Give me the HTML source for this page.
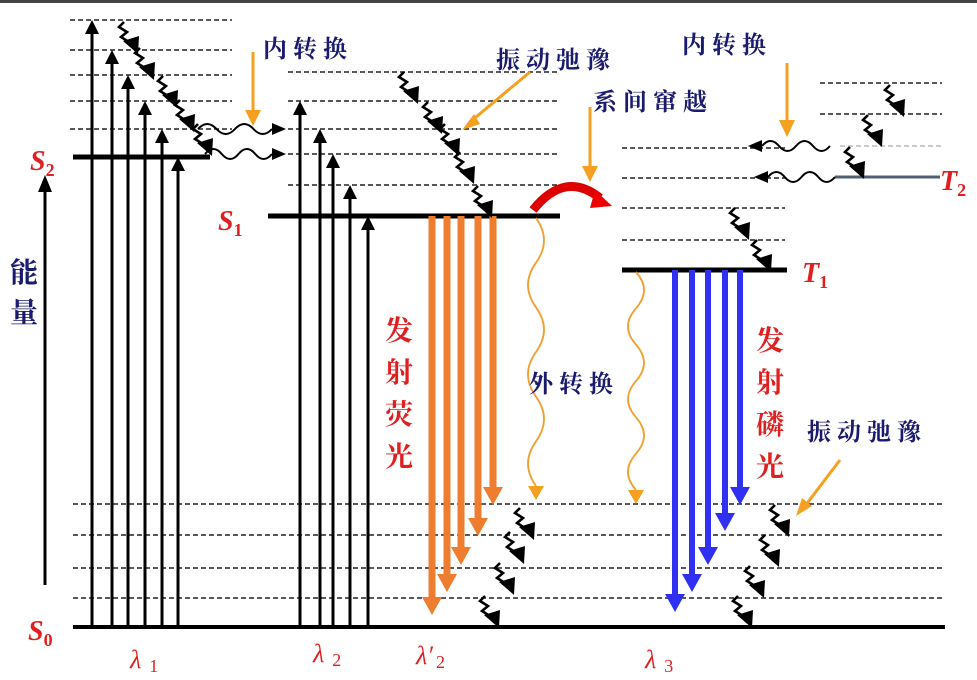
<!DOCTYPE html>
<html><head><meta charset="utf-8"><style>
html,body{margin:0;padding:0;background:#fff;}
svg{display:block;}
.zh{font-family:"Liberation Serif","Noto Serif CJK SC",serif;font-weight:bold;}
.it{font-family:"Liberation Serif",serif;font-style:italic;font-weight:bold;fill:#e02020;}
.sub{font-style:normal;}
</style></head><body>
<svg id="d" width="977" height="680" viewBox="0 0 977 680" xmlns="http://www.w3.org/2000/svg">
<rect x="0" y="0" width="977" height="3" fill="#444"/>
<g id="lv"></g>
<g id="ar"></g>
<path d="M533,210 Q565,170 600,198" stroke="#d00" stroke-width="9" fill="none"/>
<path d="M595,190 L612,206 L590,208 Z" fill="#e00"/>
<line x1="45" y1="585" x2="45" y2="190" stroke="#000" stroke-width="3"/>
<path d="M38,192 L45,175 L52,192 Z" fill="#000"/>
<text class="zh" x="10" y="282" font-size="28" fill="#1a1a6e">能</text>
<text class="zh" x="10" y="322" font-size="28" fill="#1a1a6e">量</text>
<text class="it" x="30" y="170" font-size="28">S<tspan class="sub" font-size="18" dy="6">2</tspan></text>
<text class="it" x="218" y="230" font-size="28">S<tspan class="sub" font-size="18" dy="6">1</tspan></text>
<text class="it" x="28" y="640" font-size="28">S<tspan class="sub" font-size="18" dy="6">0</tspan></text>
<text class="it" x="802" y="282" font-size="28">T<tspan class="sub" font-size="18" dy="6">1</tspan></text>
<text class="it" x="940" y="190" font-size="28">T<tspan class="sub" font-size="18" dy="6">2</tspan></text>
<g font-family="Liberation Serif,serif" fill="#e02020" font-size="26">
<text x="130" y="668" font-style="italic">λ<tspan class="sub" font-size="18" dx="8" dy="4">1</tspan></text>
<text x="313" y="662" font-style="italic">λ<tspan class="sub" font-size="18" dx="8" dy="4">2</tspan></text>
<text x="416" y="664" font-style="italic">λ′<tspan class="sub" font-size="18" dx="3" dy="4">2</tspan></text>
<text x="645" y="668" font-style="italic">λ<tspan class="sub" font-size="18" dx="8" dy="4">3</tspan></text>
</g>
<g class="zh" fill="#1a1a6e" font-size="24">
<text x="263" y="57">内 转 换</text>
<text x="496" y="68">振 动 弛 豫</text>
<text x="593" y="110">系 间 窜 越</text>
<text x="682" y="53">内 转 换</text>
<text x="529" y="392">外 转 换</text>
<text x="807" y="440">振 动 弛 豫</text>
</g>
<g class="zh" fill="#e02020" font-size="28">
<text x="385" y="340">发</text>
<text x="385" y="382">射</text>
<text x="385" y="424">荧</text>
<text x="385" y="466">光</text>
<text x="756" y="350">发</text>
<text x="756" y="392">射</text>
<text x="756" y="434">磷</text>
<text x="756" y="476">光</text>
</g>
<g stroke="#f5a020" stroke-width="3" fill="#f5a020">
<line x1="253" y1="52" x2="253" y2="112"/><path d="M245,110L253,126L261,110Z" stroke="none"/>
<line x1="530" y1="72" x2="470" y2="122"/><path d="M462,130L474,114L480,124Z" stroke="none"/>
<line x1="590" y1="107" x2="590" y2="168"/><path d="M582,166L590,182L598,166Z" stroke="none"/>
<line x1="787" y1="63" x2="787" y2="122"/><path d="M779,120L787,137L795,120Z" stroke="none"/>
<line x1="840" y1="460" x2="805" y2="506"/><path d="M796,516L802,498L812,506Z" stroke="none"/>
</g>
</svg>
<script>
var s2Dashes=[20,50,75,101,129];
var s1Dashes=[72,101,129,154,185];
var t1Dashes=[148,178,208,240];
var t2Dashes=[83,114];
var s0Dashes=[504,535,568,598];
var s2Abs=[[92,20],[112,50],[128,75],[145,101],[162,129],[178,157]];
var s1Abs=[[300,101],[320,129],[333,154],[350,185],[368,216]];
var fluo=[[432,615],[447,592],[461,565],[478,536],[493,505]];
var phos=[[675,612],[692,592],[708,565],[725,531],[740,505]];
var NS="http://www.w3.org/2000/svg";
var lv=document.getElementById('lv'),ar=document.getElementById('ar');
function mk(t,a,p){var e=document.createElementNS(NS,t);for(var k in a)e.setAttribute(k,a[k]);(p||ar).appendChild(e);return e;}
function dash(x1,x2,y,col){var e=mk('line',{x1:x1,x2:x2,y1:y,y2:y,stroke:col||'#222','stroke-width':1.5,'stroke-dasharray':'5,3'},lv);

}
function bold(x1,x2,y,w,col){var e=mk('line',{x1:x1,x2:x2,y1:y,y2:y,stroke:col||'#000','stroke-width':w||5},lv);

}
s2Dashes.forEach(function(y){dash(70,232,y);});
s1Dashes.forEach(function(y){dash(288,560,y);});
t1Dashes.forEach(function(y){dash(622,785,y);});
t2Dashes.forEach(function(y){dash(820,942,y);});
dash(840,942,146,'#bbb');
s0Dashes.forEach(function(y){dash(73,945,y);});
bold(73,210,157);bold(268,560,216);bold(622,787,270);bold(835,940,177,3,'#506070');bold(73,945,627,4);
function up(x,y){var l=mk('line',{x1:x,x2:x,y1:627,y2:y+12,stroke:'#000','stroke-width':3});


var h=mk('path',{d:'M'+(x-7)+','+(y+14)+'L'+x+','+y+'L'+(x+7)+','+(y+14)+'Z',fill:'#000'});

}
s2Abs.forEach(function(a){up(a[0],a[1]);});
s1Abs.forEach(function(a){up(a[0],a[1]);});
function down(x,y0,y,col,w){var l=mk('line',{x1:x,x2:x,y1:y0,y2:y-16,stroke:col,'stroke-width':w});


var h=mk('path',{d:'M'+(x-10)+','+(y-18)+'L'+x+','+y+'L'+(x+10)+','+(y-18)+'Z',fill:col});

}
fluo.forEach(function(a){down(a[0],216,a[1],'#ee7d30',7);});
phos.forEach(function(a){down(a[0],270,a[1],'#3030f0',6);});
function sq(x,y){var p=mk('path',{d:'M'+x+','+y+'l-5,5 l8,5 l-6,5 l8,5 l3,3',stroke:'#000','stroke-width':2.6,fill:'none'});


var h=mk('path',{d:'M'+(x-1)+','+(y+19)+'L'+(x+14)+','+(y+32)+'L'+(x+15)+','+(y+14)+'Z',fill:'#000'});

}
[[124,22],[140,48],[163,76],[180,100],[198,124],[404,72],[428,102],[445,124],[460,152],[478,186],
 [890,85],[868,115],[850,147],[735,208],[757,240],
 [520,508],[510,532],[500,563],[485,596],[775,505],[765,535],[750,566],[738,596]].forEach(function(a){sq(a[0],a[1]);});
function wav(x1,x2,y,dir){var d='M'+x1+','+y;var n=4,s=(x2-x1)/n;for(var i=0;i<n;i++){d+=' q'+(s/2)+','+(i%2?10:-10)+' '+s+',0';}
var p=mk('path',{d:d,stroke:'#000','stroke-width':2,fill:'none'});


var tx=dir>0?x2:x1;var h=mk('path',{d:'M'+tx+','+(y-6)+'L'+(tx+dir*14)+','+y+'L'+tx+','+(y+6)+'Z',fill:'#000'});

}
wav(198,272,129,1);wav(205,272,154,1);wav(762,830,146,-1);wav(768,835,177,-1);
function ow(x,y0,y1){var d='M'+x+','+y0;var n=6,s=(y1-y0)/n;for(var i=0;i<n;i++){d+=' q'+(i%2?-16:16)+','+(s/2)+' 0,'+s;}
var p=mk('path',{d:d,stroke:'#f0a030','stroke-width':1.8,fill:'none'});


var h=mk('path',{d:'M'+(x-8)+','+y1+'L'+x+','+(y1+14)+'L'+(x+8)+','+y1+'Z',fill:'#f5a020'});

}
ow(536,218,486);ow(636,272,490);
</script>
</body></html>
